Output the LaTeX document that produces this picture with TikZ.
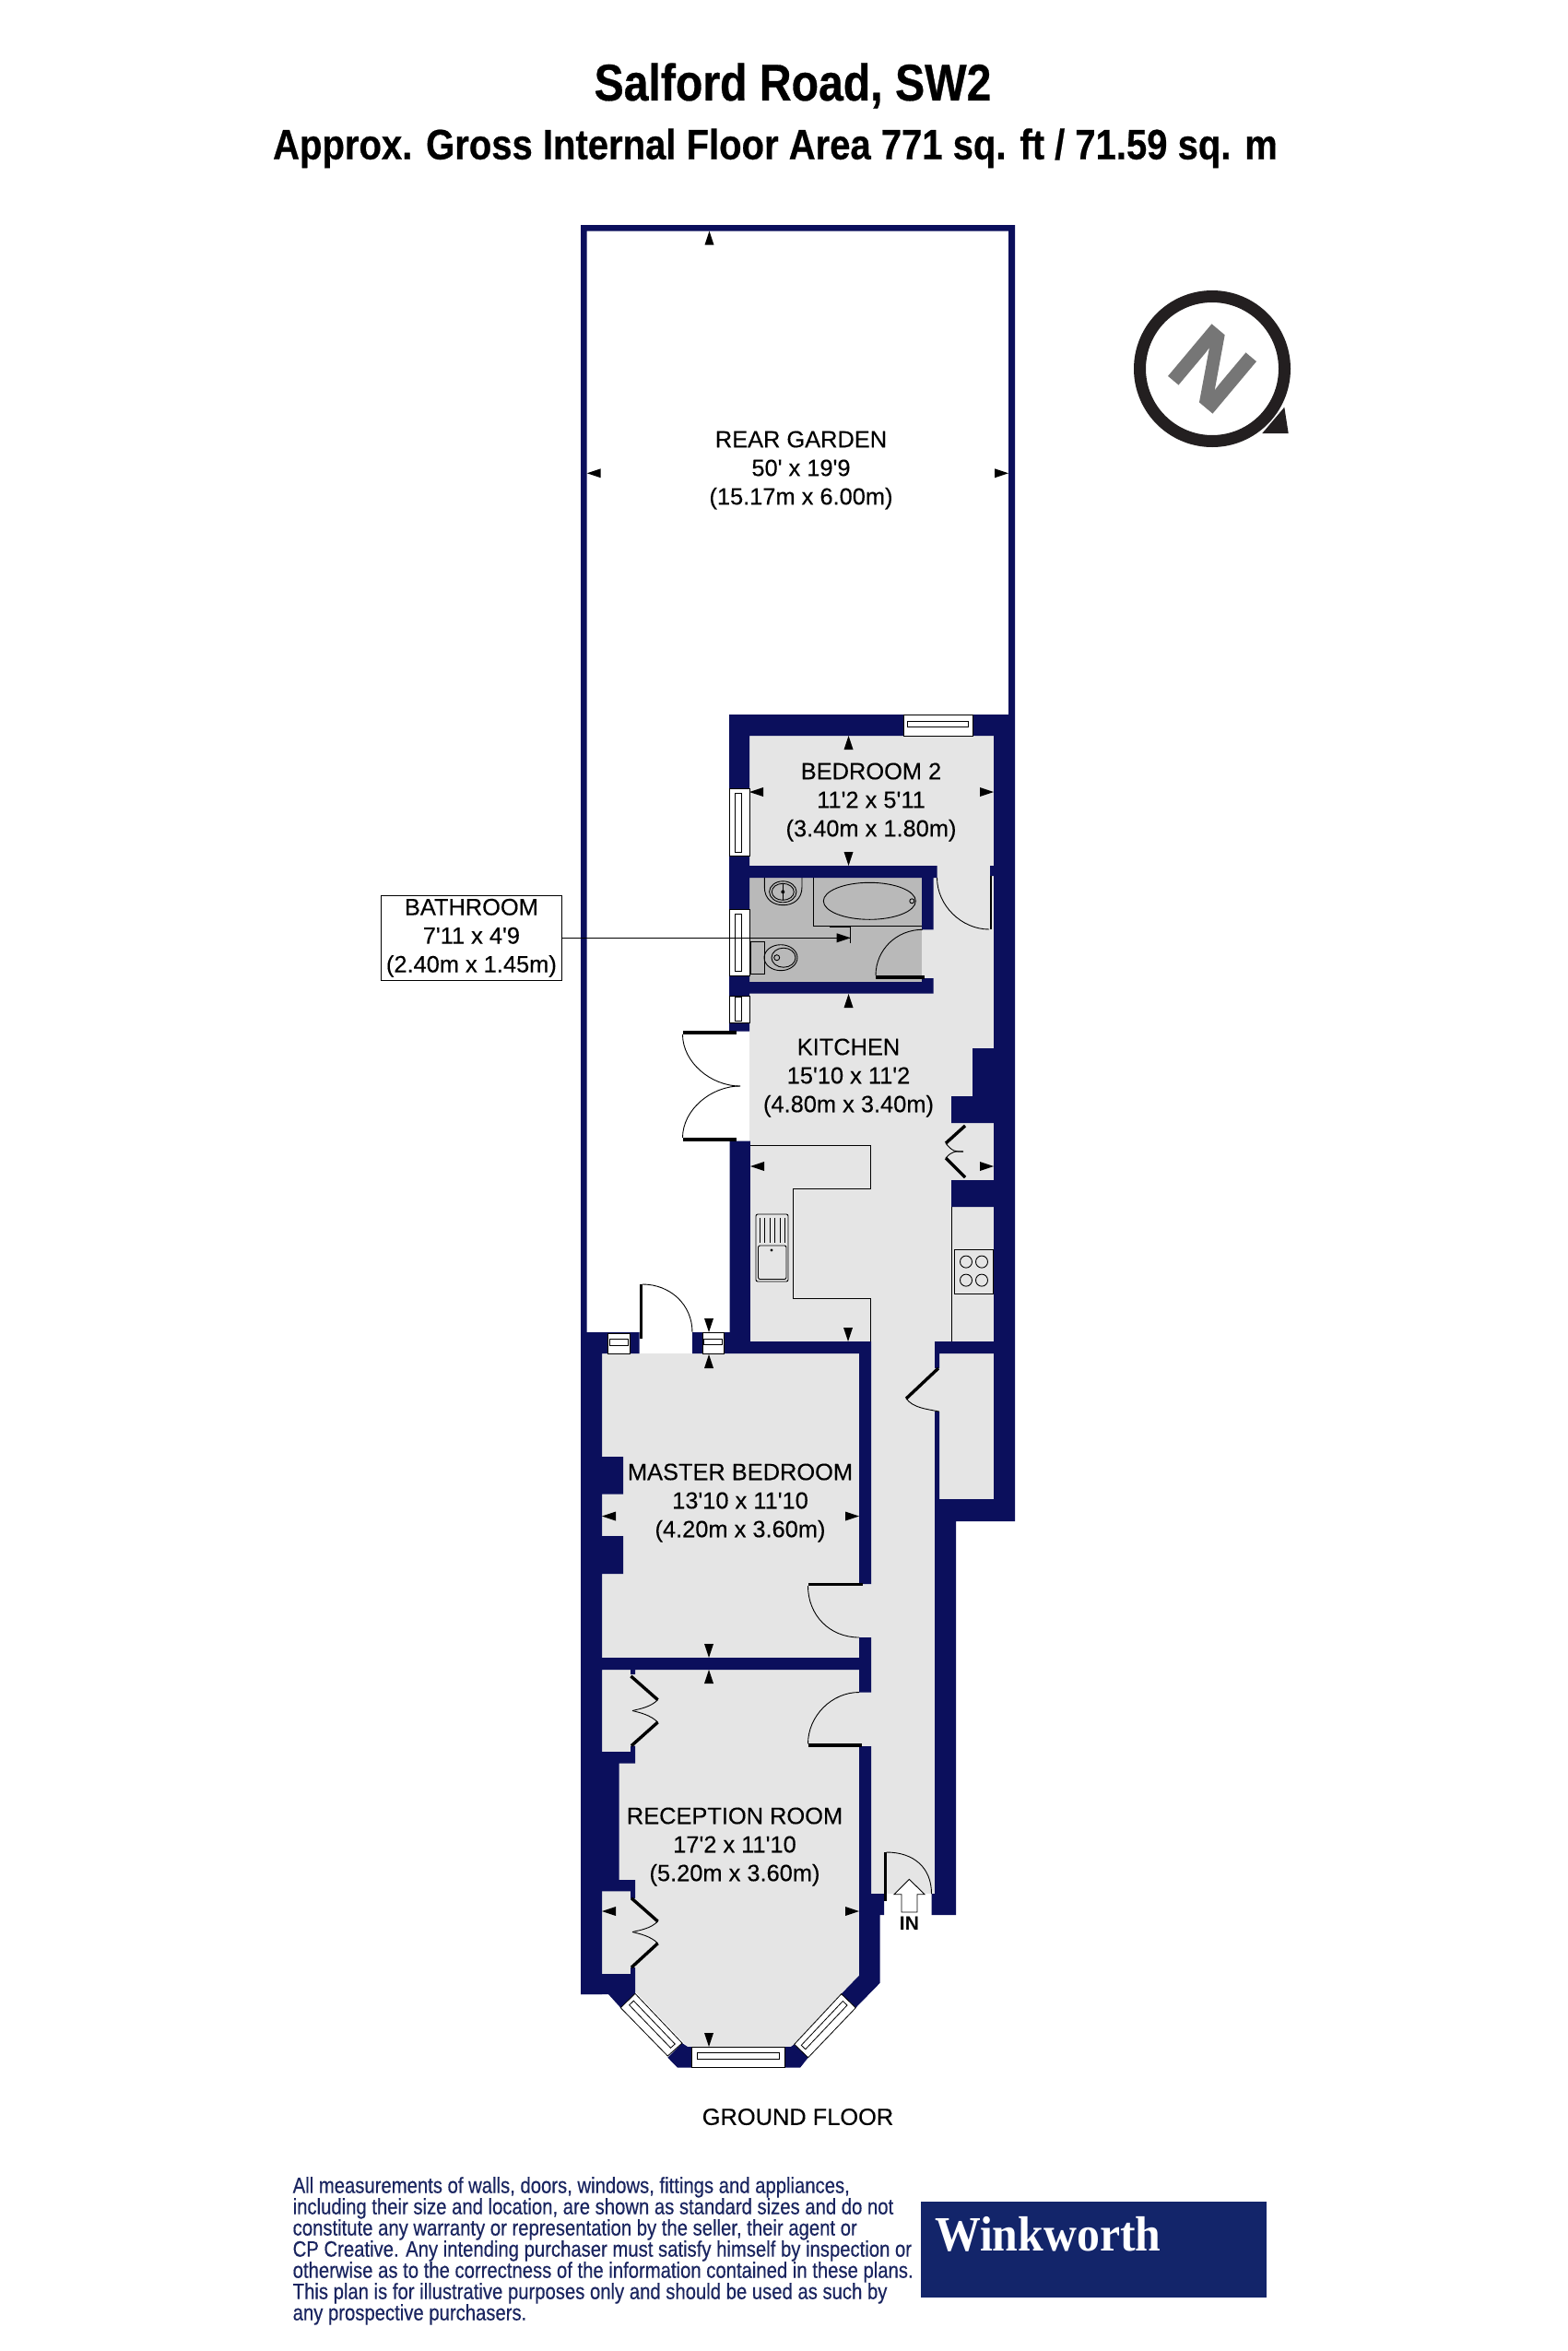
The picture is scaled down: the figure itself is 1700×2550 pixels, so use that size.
\documentclass[tikz,border=0pt]{standalone}
\usepackage{fontspec}
\usetikzlibrary{calc}
\setmainfont{Liberation Sans}
\newfontfamily\ttlfont[FakeStretch=0.86,FakeBold=0.5]{Liberation Sans}
\newfontfamily\subfont[FakeStretch=0.87,FakeBold=0.5]{Liberation Sans}
\newfontfamily\finefont[FakeStretch=0.845,FakeBold=0.4]{Liberation Sans}
\newfontfamily\roomfont[FakeBold=0.2]{Liberation Sans}
\newfontfamily\northfont[FakeBold=1.5]{Liberation Sans}
\newfontfamily\brandfont[FakeStretch=0.93]{Liberation Serif}
\definecolor{wallc}{HTML}{0B0F5C}
\definecolor{floorc}{HTML}{E5E5E5}
\definecolor{bathc}{HTML}{B9B9B9}
\definecolor{brandc}{HTML}{13256A}
\definecolor{finec}{HTML}{1A2560}
\definecolor{compc}{HTML}{231F20}
\definecolor{ngrey}{HTML}{767676}
\tikzset{
  wallfill/.style={fill=wallc},
  floorfill/.style={fill=floorc},
  thinl/.style={draw=black,line width=0.9pt},
  leaf/.style={fill=black},
  leafl/.style={draw=black,line width=3.4pt},
  room/.style={font=\roomfont\fontsize{25.4}{31}\selectfont,align=center,text=black},
  winline/.style={draw=black,line width=0.8pt},
}
\newcommand\sq{\textquotesingle{}}
\newcommand\tipd[2]{\fill[black] (#1,#2)--(#1-5,#2-15)--(#1+5,#2-15)--cycle;}
\newcommand\tipu[2]{\fill[black] (#1,#2)--(#1-5,#2+15)--(#1+5,#2+15)--cycle;}
\newcommand\tipl[2]{\fill[black] (#1,#2)--(#1+15,#2-5)--(#1+15,#2+5)--cycle;}
\newcommand\tipr[2]{\fill[black] (#1,#2)--(#1-15,#2-5)--(#1-15,#2+5)--cycle;}
\newcommand\winq[4]{%
  \draw[winline,fill=white] #1--#2--#3--#4--cycle;
  \coordinate (wa) at ($#1!.3!#2$); \coordinate (wb) at ($#4!.3!#3$);
  \coordinate (wc) at ($#1!.6!#2$); \coordinate (wd) at ($#4!.6!#3$);
  \draw[winline] ($(wa)!.06!(wb)$) -- ($(wa)!.94!(wb)$) -- ($(wc)!.94!(wd)$) -- ($(wc)!.06!(wd)$) -- cycle;
}
\begin{document}
\begin{tikzpicture}[x=1pt,y=-1pt]
\useasboundingbox (0,0) rectangle (1700,2550);
\fill[white] (0,0) rectangle (1700,2550);

% floors
\fill[floorfill] (813,798) rectangle (1078,1455);
\fill[floorfill] (945,1455) rectangle (1014,2054);
\fill[floorfill] (1014,1468) rectangle (1078,1626);
\fill[floorfill] (653,1468) rectangle (945,1798);
\fill[floorfill] (653,1811) rectangle (945,2054);
\fill[floorfill] (653,2054)--(932,2054)--(932,2142.7)--(860,2220)--(746,2220)--(689,2160)--(653,2160)--cycle;
\fill[fill=bathc] (813,952) rectangle (1000,1065);

% walls
\fill[wallfill]
  (630,244) rectangle (1101,250.7)
  (630,244) rectangle (636.7,1445)
  (1094,244) rectangle (1101,775)
  (791,775) rectangle (1101,798)
  (791,775) rectangle (813,1118.6)
  (1078,775) rectangle (1101,1650)
  (813,939) rectangle (1016.7,952)
  (1000,952) rectangle (1012.7,1008.3)
  (1000,1061) rectangle (1012.7,1077.7)
  (813,1065) rectangle (1012.7,1077.7)
  (1074,939) rectangle (1078,950)
  (1055,1137) rectangle (1078,1218)
  (1032,1189) rectangle (1078,1218)
  (1032,1280) rectangle (1078,1309)
  (791.5,1237.5) rectangle (813.8,1468)
  (791.5,1455) rectangle (945,1468)
  (630,1445) rectangle (693.7,1468)
  (751,1445) rectangle (791.5,1468)
  (932,1455) rectangle (945,1718)
  (932,1776) rectangle (945,1835.5)
  (932,1894) rectangle (945,2054)
  (932,2054) rectangle (959,2077)
  (1014,1455) rectangle (1078,1468)
  (1014,1468) rectangle (1019,1484)
  (1014,1531) rectangle (1019,1650)
  (1014,1626) rectangle (1101,1650)
  (1014,1650) rectangle (1037,2077)
  (1010.5,2054) rectangle (1014,2077)
  (630,1445) rectangle (653,2163)
  (653,1580) rectangle (676,1620.7)
  (653,1666) rectangle (676,1707)
  (653,1798) rectangle (932,1811)
  (684,1811) rectangle (689,1816);
\fill[wallfill] (653,1900)--(684,1900)--(684,1893.5)--(689,1893.5)--(689,1912.7)--(671.6,1912.7)--(671.6,2039)--(689,2039)--(689,2059)--(684,2059)--(684,2051.4)--(653,2051.4)--cycle;
\fill[wallfill] (630,2141)--(684,2141)--(684,2134)--(689,2134)--(689,2162.3)--(673.3,2177.7)--(660,2163)--(630,2163)--cycle;
\fill[wallfill] (740,2216)--(724.3,2231.7)--(735,2242.7)--(750.7,2242.7)--(750.7,2220)--(746,2220)--cycle;
\fill[wallfill] (851.7,2220)--(851.7,2242.7)--(868,2242.7)--(876.7,2231.7)--(861.7,2217.3)--(858,2220)--cycle;
\fill[wallfill] (932,2077)--(954.7,2077)--(954.7,2150.7)--(928.3,2177.7)--(912.7,2162.7)--(932,2142.7)--cycle;

% windows
\winq{(980,775)}{(980,798)}{(1055,798)}{(1055,775)}
\winq{(791,855.7)}{(813,855.7)}{(813,928.3)}{(791,928.3)}
\winq{(791,986.7)}{(813,986.7)}{(813,1058)}{(791,1058)}
\winq{(791,1080)}{(813,1080)}{(813,1109)}{(791,1109)}
\winq{(659.6,1446)}{(659.6,1468)}{(683.3,1468)}{(683.3,1446)}
\winq{(762,1445)}{(762,1468)}{(785,1468)}{(785,1445)}
\winq{(689,2162.3)}{(673.3,2177.7)}{(724.3,2230)}{(740,2216)}
\winq{(750.7,2220)}{(750.7,2242.7)}{(851.7,2242.7)}{(851.7,2220)}
\winq{(861.7,2217.3)}{(876.7,2231.7)}{(928.3,2177.7)}{(912.7,2162.7)}

% door leaves and swings
\fill[leaf] (950,1058) rectangle (1003,1061.7);
\draw[thinl] (950,1058) .. controls +(0,-28) and +(-28,0) .. (1000.7,1008.3);
\fill[leaf] (1073.5,950) rectangle (1075.5,1008);
\draw[thinl] (1016.5,952) .. controls +(0,30) and +(-30,0) .. (1073,1008);
\fill[leaf] (740.5,1118) rectangle (799,1122);
\fill[leaf] (740.5,1234) rectangle (799,1237.5);
\draw[thinl] (740.5,1122) .. controls +(0,30) and +(-32,0) .. (803,1178);
\draw[thinl] (740.5,1234) .. controls +(0,-30) and +(-32,0) .. (803,1178);
\fill[leaf] (693.7,1393) rectangle (697,1452);
\draw[thinl] (697,1393) .. controls +(30,0) and +(0,-30) .. (751,1445);
\fill[leaf] (876.5,1717) rectangle (936,1720.4);
\draw[thinl] (876.5,1720) .. controls +(0,32) and +(-32,0) .. (932,1776);
\fill[leaf] (876.5,1891.4) rectangle (935,1894.7);
\draw[thinl] (932,1835.5) .. controls +(-30,0) and +(0,-30) .. (876.5,1891.4);
\fill[leaf] (959,2009) rectangle (961.6,2062);
\draw[thinl] (961.6,2009) .. controls +(30,0) and +(0,-28) .. (1010.5,2054);
\draw[leafl] (1018,1484) -- (983,1517);
\draw[thinl] (983,1517) .. controls +(8,10) and +(-15,-3) .. (1018.7,1531);
% kitchen cupboard doors
\draw[leafl] (1047,1221) -- (1026,1240);
\draw[leafl] (1047,1277) -- (1026,1256);
\draw[thinl] (1026,1240) .. controls +(6,8) and +(-8,1) .. (1045,1249);
\draw[thinl] (1026,1256) .. controls +(6,-7) and +(-8,-1) .. (1045,1249);
% wardrobe doors
\draw[leafl] (684.4,1818) -- (713.6,1843.7);
\draw[leafl] (713.6,1868) -- (685,1893.5);
\draw[thinl] (713.6,1843.7) .. controls +(-8,8) and +(8,-2) .. (686,1855.5);
\draw[thinl] (713.6,1868) .. controls +(-8,-8) and +(8,2) .. (686,1855.5);
\draw[leafl] (685,2058.8) -- (713.6,2084);
\draw[leafl] (713.6,2107.8) -- (685,2134);
\draw[thinl] (713.6,2084) .. controls +(-8,8) and +(8,-2) .. (686,2095.5);
\draw[thinl] (713.6,2107.8) .. controls +(-8,-8) and +(8,2) .. (686,2095.5);

% kitchen fittings
\draw[thinl] (813.8,1242.5) -- (944,1242.5) -- (944,1289) -- (860,1289) -- (860,1408) -- (944,1408) -- (944,1455);
\draw[thinl] (1032,1309) -- (1032,1455);
\draw[thinl,rounded corners=2pt] (820,1317) rectangle (855,1390);
\draw[thinl,rounded corners=2pt] (822.5,1351) rectangle (853,1387.5);
\foreach \xx in {824,829.5,835,840.5,846,851} \draw[thinl,line width=0.7pt] (\xx,1321) -- (\xx,1348);
\fill[black] (837,1356) circle (1.6);
\draw[thinl] (1035,1355) rectangle (1077,1403);
\foreach \xx in {1048,1065} \foreach \yy in {1368.6,1388.6} \draw[thinl] (\xx,\yy) circle (6.5);

% bathroom fittings
\draw[thinl] (882.3,952) -- (882.3,1004.3) -- (1000,1004.3);
\draw[thinl] (943.3,977.3) ellipse (50 and 20);
\draw[thinl] (989.3,977.3) circle (2.5);
\draw[thinl] (829.3,952) -- (829.3,962) .. controls (829.3,975) and (838,981.7) .. (849.6,981.7) .. controls (861,981.7) and (870,975) .. (870,962) -- (870,952);
\draw[thinl] (849.3,967.3) ellipse (14.7 and 11.5);
\draw[thinl] (849.3,967.3) ellipse (12 and 9);
\fill[black] (849.3,967.3) circle (2);
\draw[thinl] (849.3,958) -- (849.3,976);
\draw[thinl] (814,1021) rectangle (829,1056.7);
\draw[thinl] (847,1038.7) ellipse (18 and 14);
\draw[thinl] (850,1038.7) ellipse (13 and 10.5);
\draw[thinl] (842.7,1038.7) circle (3);
\draw[thinl] (900,1005) -- (922.7,1005) -- (922.7,1022.7);

% dimension arrows
\tipu{769.5}{250.7}
\tipl{636.7}{513.3}
\tipr{1094}{513.3}
\tipu{920.5}{798}
\tipd{920.5}{939}
\tipl{813}{859}
\tipr{1078}{859}
\tipu{920.5}{1078}
\tipl{814}{1265}
\tipr{1078}{1265}
\tipd{920}{1455}
\tipd{769}{1445}
\tipu{769}{1469}
\tipl{653}{1644.5}
\tipr{932}{1644.5}
\tipd{769}{1798}
\tipu{769}{1811}
\tipl{653}{2073}
\tipr{932}{2073}
\tipd{769}{2220}

% IN arrow
\draw[thinl,fill=white] (986.4,2038.4)--(1003,2054.7)--(995,2054.7)--(995,2074)--(978,2074)--(978,2054.7)--(970,2054.7)--cycle;
\node[font=\fontsize{21}{21}\selectfont\bfseries] (inlabel) at (986.4,2086) {IN};

% room labels
\node[room] (garden) at (869,510) {REAR GARDEN\\50\sq\ x 19\sq 9\\(15.17m x 6.00m)};
\node[room] (bed2) at (945,870) {BEDROOM 2\\11\sq 2 x 5\sq 11\\(3.40m x 1.80m)};
\node[room] (kitchen) at (920.5,1169) {KITCHEN\\15\sq 10 x 11\sq 2\\(4.80m x 3.40m)};
\node[room] (master) at (803,1630) {MASTER BEDROOM\\13\sq 10 x 11\sq 10\\(4.20m x 3.60m)};
\node[room] (recep) at (797,2003) {RECEPTION ROOM\\17\sq 2 x 11\sq 10\\(5.20m x 3.60m)};
\node[room,draw=black,line width=0.9pt,fill=white,inner sep=0pt,minimum width=196pt,minimum height=92pt] (bath) at (511.4,1017.3) {BATHROOM\\7\sq 11 x 4\sq 9\\(2.40m x 1.45m)};
\coordinate (bathtip) at (922.7,1017.3);
\draw[thinl] (bath.east) -- (bathtip);
\tipr{922.7}{1017.3}
\node[font=\roomfont\fontsize{25.4}{26}\selectfont] (floorlabel) at (865.5,2296) {GROUND FLOOR};

% title
\node[anchor=base,font=\ttlfont\bfseries\fontsize{56}{56}\selectfont] (title) at (860,109) {Salford Road, SW2};
\node[anchor=base,font=\subfont\bfseries\fontsize{46}{46}\selectfont] (subtitle) at (841,172.7) {Approx. Gross Internal Floor Area 771 sq. ft / 71.59 sq. m};

% compass
\draw[draw=compc,line width=13pt] (1315,400) circle (78.5);
\fill[compc] (1393.3,441.7)--(1397.7,470)--(1369.3,470)--cycle;
\node[rotate=-40,text=ngrey,inner sep=0pt,font=\northfont\bfseries\fontsize{105}{105}\selectfont] (north) at (1315,400) {N};

% disclaimer
\node[anchor=north west,inner sep=0pt,align=left,text=finec,font=\finefont\fontsize{24}{23}\selectfont] (fine) at (317.5,2361) {All measurements of walls, doors, windows, fittings and appliances,\\including their size and location, are shown as standard sizes and do not\\constitute any warranty or representation by the seller, their agent or\\CP Creative. Any intending purchaser must satisfy himself by inspection or\\otherwise as to the correctness of the information contained in these plans.\\This plan is for illustrative purposes only and should be used as such by\\any prospective purchasers.};

% brand
\fill[brandc] (999,2388) rectangle (1373.7,2491.7);
\node[anchor=base west,inner sep=0pt,text=white,font=\brandfont\bfseries\fontsize{53.5}{54}\selectfont] (brand) at (1014,2441.7) {Winkworth};
\end{tikzpicture}
\end{document}
